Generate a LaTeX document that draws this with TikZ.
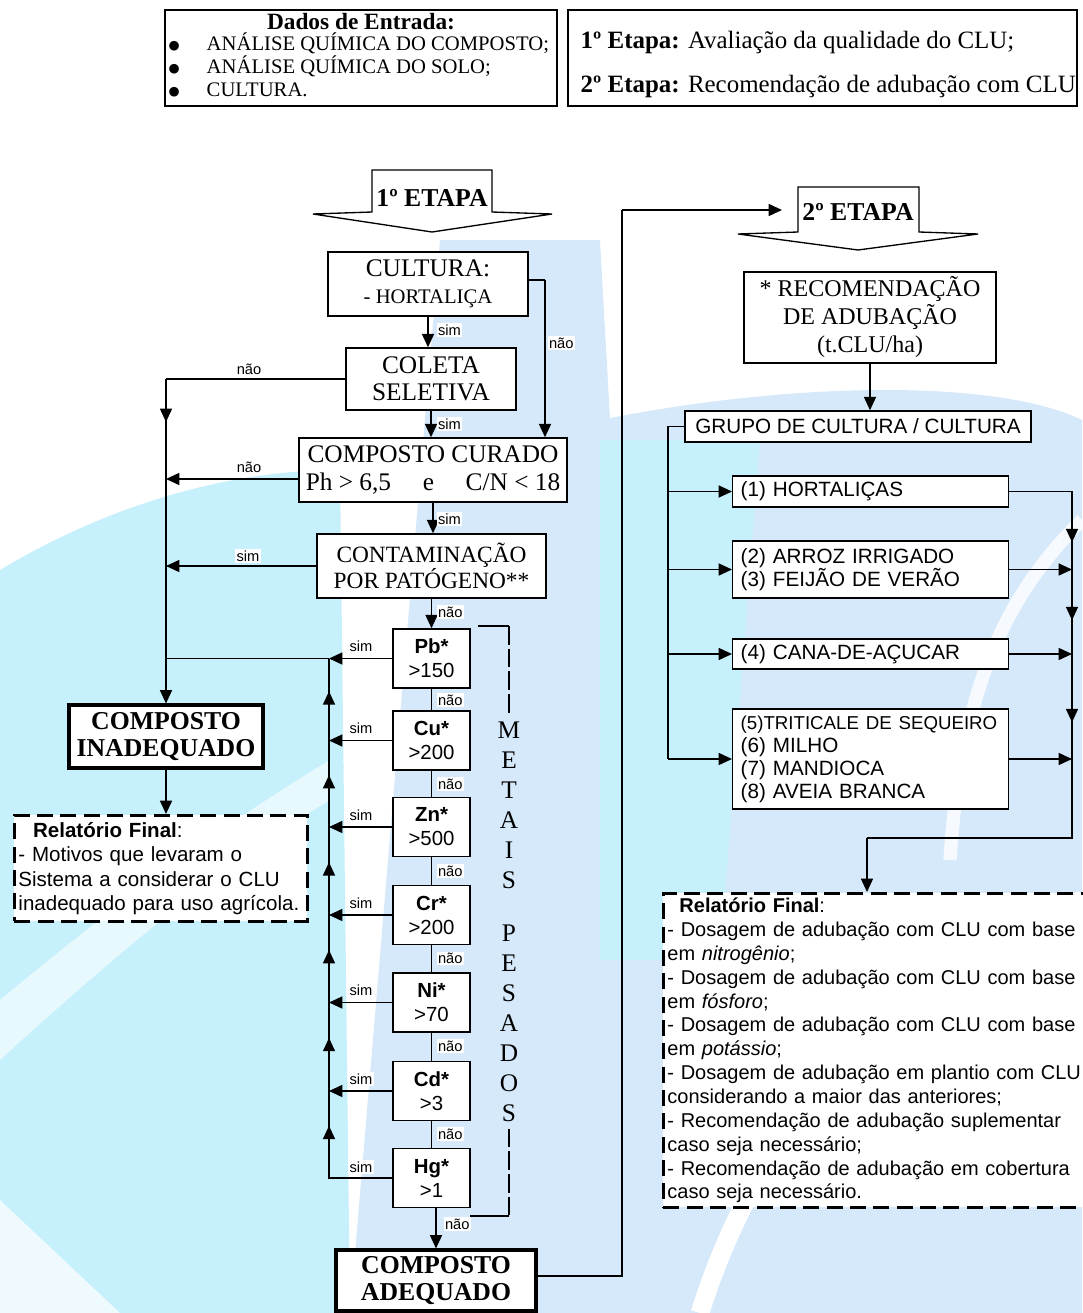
\documentclass[tikz,border=0pt]{standalone}
\usepackage{fontspec}
\setmainfont{Liberation Serif}
\setsansfont{Liberation Sans}
\newfontfamily\symfont{DejaVu Sans}
\usetikzlibrary{arrows.meta,positioning,calc}
\definecolor{bgcyan}{RGB}{198,240,251}
\definecolor{bgblue}{RGB}{214,233,250}
\newcommand{\bigbul}{\makebox[28.5pt][l]{\raisebox{0.6pt}{\symfont\fontsize{9.5}{10}\selectfont ●}}}

\begin{document}
\begin{tikzpicture}[x=0.75pt, y=-0.75pt, line width=1.1pt,
  >={Triangle[length=10pt,width=9pt]},
  serif/.style={font=\fontsize{19}{20.5}\selectfont},
  boxed/.style={rectangle, draw, fill=white, inner sep=0pt, align=center, line width=1.1pt},
  thickbox/.style={rectangle, draw, fill=white, inner sep=0pt, align=center, line width=2.3pt, font=\fontsize{19.3}{20.5}\selectfont\bfseries},
  frame/.style={rectangle, draw, line width=2.1pt, fill=white},
  metal/.style={boxed, minimum width=57.75pt, minimum height=44.25pt, font=\sffamily\fontsize{15.3}{18}\selectfont},
  lbl/.style={font=\sffamily\fontsize{11}{12}\selectfont, fill=white, inner sep=1pt},
  cropbox/.style={boxed, anchor=west, align=left, text width=195pt, inner xsep=6pt, minimum height=#1, font=\sffamily\fontsize{15.5}{17.25}\selectfont},
  report/.style={rectangle, draw, fill=white, dash pattern=on 12pt off 5.5pt, line width=2.2pt, align=left, inner sep=3pt, font=\sffamily\fontsize{15}{17.9}\selectfont},
  etapa/.style={font=\fontsize{19.3}{20}\selectfont\bfseries, inner sep=0pt}]

\useasboundingbox (0,0) rectangle (1082,1313);
\fill[white] (0,0) rectangle (1082,1313);
\fill[bgcyan] (0,570) .. controls (100,510) and (220,470) .. (340,470) -- (350,1313) -- (0,1313) -- cycle;
\fill[white, opacity=0.6] (0,1000) .. controls (120,900) and (230,820) .. (330,760) -- (330,800) .. controls (230,860) and (120,950) .. (0,1060) -- cycle;
\fill[white, opacity=0.7] (0,1200) -- (120,1313) -- (0,1313) -- cycle;
\fill[bgblue] (440,240) -- (600,240) -- (660,1313) -- (350,1313) -- cycle;
\fill[bgblue] (600,420) .. controls (800,380) and (1000,380) .. (1082,420) -- (1082,1313) -- (600,1313) -- cycle;
\fill[bgcyan] (600,440) -- (760,440) -- (720,960) -- (600,960) -- cycle;
\draw[white, line width=14pt] (700,1313) .. controls (760,1120) and (900,960) .. (1082,900);
\draw[white, line width=10pt, opacity=0.8] (1082,520) .. controls (1000,600) and (960,700) .. (950,860);

\node (dados) at (361,58) [frame, minimum width=294pt, minimum height=72pt] {};
\node (dadostit) at (361,22) [font=\fontsize{17.5}{18}\selectfont\bfseries] {Dados de Entrada:};
\node (dadoslista) at (168,65) [anchor=west, align=left, inner sep=0pt, font=\fontsize{15.5}{17.25}\selectfont] {\bigbul ANÁLISE QUÍMICA DO COMPOSTO;\\\bigbul ANÁLISE QUÍMICA DO SOLO;\\\bigbul CULTURA.};

\node (etapas) at (822.5,58) [frame, minimum width=381.75pt, minimum height=72pt] {};
\node (etapasa) at (580,43) [anchor=west, inner sep=0pt, font=\fontsize{18.7}{20}\selectfont] {\textbf{1º Etapa:} Avaliação da qualidade do CLU;};
\node (etapasb) at (580,87) [anchor=west, inner sep=0pt, font=\fontsize{18.7}{20}\selectfont] {\textbf{2º Etapa:} Recomendação de adubação com CLU};

\draw[line width=1pt] (372,212) -- (372,170) -- (492,170) -- (492,212) -- (552,214) -- (432,232) -- (313,214) -- cycle;
\node (etapa1) at (432,198) [etapa] {1º ETAPA};

\node (cultura) at (428,284) [boxed, serif, minimum width=150pt, minimum height=48pt] {CULTURA:\\{\fontsize{15.5}{20.5}\selectfont - HORTALIÇA}};
\node (coleta) at (431,379) [boxed, serif, minimum width=127.5pt, minimum height=46.5pt] {COLETA\\SELETIVA};
\node (curado) at (433,470) [boxed, serif, minimum width=201pt, minimum height=48pt] {COMPOSTO CURADO\\Ph > 6,5 \quad e \quad C/N < 18};
\node (contam) at (431.5,566) [boxed, font=\fontsize{17.5}{20}\selectfont, minimum width=171.75pt, minimum height=48pt] {CONTAMINAÇÃO\\POR PATÓGENO**};

\node (pb) at (431.5,658.5) [metal] {\textbf{Pb*}\\>150};
\node (cu) at (431.5,740.5) [metal] {\textbf{Cu*}\\>200};
\node (zn) at (431.5,827) [metal] {\textbf{Zn*}\\>500};
\node (cr) at (431.5,915) [metal] {\textbf{Cr*}\\>200};
\node (ni) at (431.5,1002.5) [metal] {\textbf{Ni*}\\>70};
\node (cd) at (431.5,1091) [metal] {\textbf{Cd*}\\>3};
\node (hg) at (431.5,1178) [metal] {\textbf{Hg*}\\>1};

\node (inadequado) at (166,736.5) [thickbox, minimum width=145.5pt, minimum height=47.25pt] {COMPOSTO\\INADEQUADO};
\node (relat1) at (13,814) [report, anchor=north west, text width=213.75pt, minimum height=79.5pt, font=\sffamily\fontsize{15.4}{18.2}\selectfont] {\hspace*{11pt}\textbf{Relatório Final}:\\- Motivos que levaram o\\Sistema a considerar o CLU\\inadequado para uso agrícola.};
\node (adequado) at (436,1280.5) [thickbox, minimum width=150pt, minimum height=45.75pt] {COMPOSTO\\ADEQUADO};

\node (metais) at (509,805) [align=center, inner sep=0pt, font=\fontsize{19}{22.5}\selectfont] {M\\E\\T\\A\\I\\S};
\node (pesados) at (509,1023) [align=center, inner sep=0pt, font=\fontsize{19}{22.5}\selectfont] {P\\E\\S\\A\\D\\O\\S};
\coordinate (mtopl) at (478,626);
\coordinate (mtop) at (509,626);
\coordinate (mbotl) at (470,1216);
\coordinate (mbot) at (509,1216);
\draw[line width=0.9pt] (mtopl) -- (mtop);
\draw[line width=0.9pt, dash pattern=on 14pt off 3pt, shorten >=5pt] (mtop) -- (metais.north);
\draw[line width=0.9pt, dash pattern=on 14pt off 3pt, shorten <=5pt] (pesados.south) -- (mbot);
\draw[line width=0.9pt] (mbot) -- (mbotl);

\draw[->] (cultura.south) -- (cultura.south |- coleta.north);
\draw[->] (coleta.south) -- (coleta.south |- curado.north);
\draw[->] (curado.south) -- (curado.south |- contam.north);
\draw[->] (contam) -- (pb);
\node (s1) at (436,330) [lbl, anchor=west] {sim};
\node (s2) at (436,424) [lbl, anchor=west] {sim};
\node (s3) at (436,519) [lbl, anchor=west] {sim};
\node (n1) at (436,612) [lbl, anchor=west] {não};

\coordinate (cnao) at (545,280);
\draw (cultura.east |- cnao) -- (cnao);
\draw[->] (cnao) -- (cnao |- curado.north);
\node (n0) at (547,343) [lbl, anchor=west] {não};

\coordinate (lbus) at (166,379);
\coordinate (cw) at ($(curado.west)+(0,9)$);
\draw (coleta.west) -- (lbus);
\draw[->] (lbus) -- ($(lbus)!0.43!(lbus |- cw)$);
\draw[->] (lbus) -- (inadequado.north);
\draw[->] (cw) -- (cw -| lbus);
\draw[->] (contam.west) -- (contam.west -| lbus);
\node (n2) at (249,369) [lbl] {não};
\node (n3) at (249,467) [lbl] {não};
\node (s4) at (248,556) [lbl] {sim};

\draw[->] (inadequado) -- (inadequado |- relat1.north);

\coordinate (mbus) at (329,658.5);
\draw[->] (pb.west) -- (pb.west -| mbus);
\draw (pb.west -| mbus) -- (pb.west -| lbus);
\draw[->] (cu.west) -- (cu.west -| mbus);
\draw[->] (zn.west) -- (zn.west -| mbus);
\draw[->] (cr.west) -- (cr.west -| mbus);
\draw[->] (ni.west) -- (ni.west -| mbus);
\draw[->] (cd.west) -- (cd.west -| mbus);
\draw (hg.west) -- (hg.west -| mbus) -- (mbus);
\draw[->] (cu.west -| mbus) -- ($(cu.west -| mbus)!0.6!(pb.west -| mbus)$);
\draw[->] (zn.west -| mbus) -- ($(zn.west -| mbus)!0.6!(cu.west -| mbus)$);
\draw[->] (cr.west -| mbus) -- ($(cr.west -| mbus)!0.6!(zn.west -| mbus)$);
\draw[->] (ni.west -| mbus) -- ($(ni.west -| mbus)!0.6!(cr.west -| mbus)$);
\draw[->] (cd.west -| mbus) -- ($(cd.west -| mbus)!0.6!(ni.west -| mbus)$);
\draw[->] (hg.west -| mbus) -- ($(hg.west -| mbus)!0.6!(cd.west -| mbus)$);
\node (s5) at (361,646) [lbl] {sim};
\node (s6) at (361,728) [lbl] {sim};
\node (s7) at (361,815) [lbl] {sim};
\node (s8) at (361,903) [lbl] {sim};
\node (s9) at (361,990) [lbl] {sim};
\node (s10) at (361,1079) [lbl] {sim};
\node (s11) at (361,1167) [lbl] {sim};

\draw (pb) -- (cu);
\draw (cu) -- (zn);
\draw (zn) -- (cr);
\draw (cr) -- (ni);
\draw (ni) -- (cd);
\draw (cd) -- (hg);
\node (n4) at (436,700) [lbl, anchor=west] {não};
\node (n5) at (436,784) [lbl, anchor=west] {não};
\node (n6) at (436,871) [lbl, anchor=west] {não};
\node (n7) at (436,958.5) [lbl, anchor=west] {não};
\node (n8) at (436,1046) [lbl, anchor=west] {não};
\node (n9) at (436,1134) [lbl, anchor=west] {não};
\draw[->] (hg.south -| adequado.north) -- (adequado.north);
\node (n10) at (443,1224) [lbl, anchor=west] {não};

\draw[line width=1pt] (798,232) -- (798,187) -- (919,187) -- (919,232) -- (978,234) -- (858,250) -- (738,234) -- cycle;
\node (etapa2) at (858,212) [etapa] {2º ETAPA};
\coordinate (toetapa2) at (782,210);
\coordinate (adq) at (622,1276);
\draw (adequado.east |- adq) -- (adq) -- (adq |- toetapa2);
\draw[->] (adq |- toetapa2) -- (toetapa2);

\node (recom) at (870,317.5) [boxed, font=\fontsize{18}{21}\selectfont, minimum width=189pt, minimum height=68.25pt] {* RECOMENDAÇÃO\\DE ADUBAÇÃO\\(t.CLU/ha)};
\node (grupo) at (858,426.5) [boxed, font=\sffamily\fontsize{15.5}{17}\selectfont, minimum width=259.5pt, minimum height=23.25pt] {GRUPO DE CULTURA / CULTURA};
\draw[->] (recom.south) -- (recom.south |- grupo.north);

\node (c1) at (732,491.5) [cropbox=23.25pt] {(1) HORTALIÇAS};
\node (c2) at (732,569.5) [cropbox=42.75pt] {(2) ARROZ IRRIGADO\\(3) FEIJÃO DE VERÃO};
\node (c3) at (732,654) [cropbox=22.5pt] {(4) CANA-DE-AÇUCAR};
\node (c4) at (732,759) [cropbox=75pt] {{\fontsize{14}{17.25}\selectfont(5)TRITICALE DE SEQUEIRO}\\(6) MILHO\\(7) MANDIOCA\\(8) AVEIA BRANCA};

\coordinate (gl) at (668,426.5);
\draw (grupo.west) -- (gl) -- (gl |- c4.west);
\draw[->] (gl |- c1.west) -- (c1.west);
\draw[->] (gl |- c2.west) -- (c2.west);
\draw[->] (gl |- c3.west) -- (c3.west);
\draw[->] (gl |- c4.west) -- (c4.west);

\coordinate (rbus) at (1072,491.5);
\coordinate (rcorner) at (1072,838);
\coordinate (rturn) at (867,838);
\draw (c1.east) -- (rbus) -- (rcorner) -- (rturn);
\draw[->] (c2.east) -- (rbus |- c2.east);
\draw[->] (c3.east) -- (rbus |- c3.east);
\draw[->] (c4.east) -- (rbus |- c4.east);
\draw[->] (rbus) -- ($(rbus)!0.65!(rbus |- c2.east)$);
\draw[->] (rbus |- c2.east) -- ($(rbus |- c2.east)!0.6!(rbus |- c3.east)$);
\draw[->] (rbus |- c3.east) -- ($(rbus |- c3.east)!0.65!(rbus |- c4.east)$);

\node (relat2) at (662,892) [report, anchor=north west, text width=318.75pt, minimum height=235.5pt] {\hspace*{9pt}\textbf{Relatório Final}:\\- Dosagem de adubação com CLU com base\\em \textit{nitrogênio};\\- Dosagem de adubação com CLU com base\\em \textit{fósforo};\\- Dosagem de adubação com CLU com base\\em \textit{potássio};\\- Dosagem de adubação em plantio com CLU\\considerando a maior das anteriores;\\- Recomendação de adubação suplementar\\caso seja necessário;\\- Recomendação de adubação em cobertura\\caso seja necessário.};
\draw[->] (rturn) -- (rturn |- relat2.north);
\end{tikzpicture}
\end{document}
